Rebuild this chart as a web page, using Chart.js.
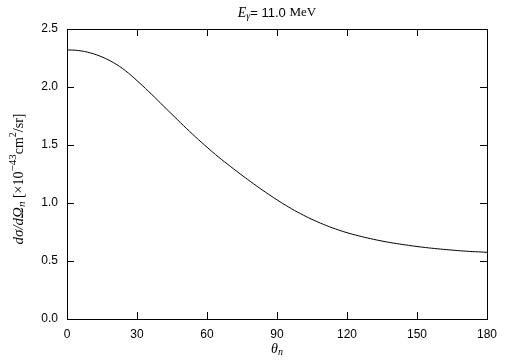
<!DOCTYPE html>
<html>
<head>
<meta charset="utf-8">
<script src="https://cdn.jsdelivr.net/npm/chart.js@4/dist/chart.umd.min.js"></script>
<style>
html,body{margin:0;padding:0;background:#fff;}
#wrap{width:505px;height:361px;position:relative;}
</style>
</head>
<body>
<div id="wrap"><canvas id="c" width="505" height="361"></canvas></div>
<script>
const angles = [0,5,10,15,20,25,30,35,40,45,50,55,60,65,70,75,80,85,90,95,100,105,110,115,120,125,130,135,140,145,150,155,160,165,170,175,180];
const crossSection = [2.320,2.314,2.294,2.259,2.209,2.141,2.055,1.961,1.863,1.764,1.666,1.571,1.481,1.395,1.316,1.239,1.165,1.094,1.027,0.965,0.909,0.859,0.815,0.777,0.744,0.717,0.693,0.672,0.654,0.639,0.625,0.613,0.603,0.594,0.586,0.580,0.575];
const xTicks = [0,30,60,90,120,150,180];
const yTicks = [0,0.5,1.0,1.5,2.0,2.5];

const SANS = '"Liberation Sans", Arial, sans-serif';
const SERIF = '"Liberation Serif", "Times New Roman", serif';

function drawRich(ctx, parts, x, y, rot) {
  ctx.save();
  ctx.translate(x, y);
  if (rot) ctx.rotate(rot);
  ctx.textBaseline = 'middle';
  ctx.fillStyle = '#000';
  let total = 0;
  parts.forEach(p => { ctx.font = p.f; p.w = ctx.measureText(p.t).width; total += p.w; });
  let cx = -total / 2;
  parts.forEach(p => { ctx.font = p.f; ctx.textAlign = 'left'; ctx.fillText(p.t, cx, p.dy || 0); cx += p.w; });
  ctx.restore();
}

const framePlugin = {
  id: 'frame',
  afterDraw(chart) {
    const ctx = chart.ctx;
    const a = chart.chartArea;
    const xs = chart.scales.x, ys = chart.scales.y;
    ctx.save();
    ctx.strokeStyle = '#000';
    ctx.lineWidth = 1;
    ctx.strokeRect(a.left + 0.5, a.top + 0.5, a.right - a.left, a.bottom - a.top);
    ctx.beginPath();
    const L = 7;
    xTicks.forEach(v => {
      const px = Math.round(xs.getPixelForValue(v)) + 0.5;
      ctx.moveTo(px, a.bottom); ctx.lineTo(px, a.bottom - L);
      ctx.moveTo(px, a.top); ctx.lineTo(px, a.top + L);
    });
    yTicks.forEach(v => {
      const py = Math.round(ys.getPixelForValue(v)) + 0.5;
      ctx.moveTo(a.left, py); ctx.lineTo(a.left + L, py);
      ctx.moveTo(a.right, py); ctx.lineTo(a.right - L, py);
    });
    ctx.stroke();
    ctx.restore();

    // Title
    drawRich(ctx, [
      {t: 'E', f: 'italic 14px ' + SERIF},
      {t: 'γ', f: 'italic 10px ' + SERIF, dy: 3},
      {t: '= 11.0 ', f: '13px ' + SANS},
      {t: 'MeV', f: '13px ' + SERIF}
    ], (a.left + a.right) / 2, 13, 0);

    // X title
    drawRich(ctx, [
      {t: 'θ', f: 'italic 14px ' + SERIF},
      {t: 'n', f: 'italic 10px ' + SERIF, dy: 3}
    ], (a.left + a.right) / 2, 349, 0);

    // Y title
    drawRich(ctx, [
      {t: 'dσ/dΩ', f: 'italic 15px ' + SERIF},
      {t: 'n', f: 'italic 11px ' + SERIF, dy: 3},
      {t: ' [×10', f: '14px ' + SERIF},
      {t: '−43', f: '11px ' + SERIF, dy: -6},
      {t: 'cm', f: '14px ' + SERIF},
      {t: '2', f: '10px ' + SERIF, dy: -6},
      {t: '/sr]', f: '14px ' + SERIF}
    ], 19, (a.top + a.bottom) / 2 + 5, -Math.PI / 2);
  }
};

new Chart(document.getElementById('c'), {
  type: 'line',
  data: {
    datasets: [{
      data: angles.map((a, i) => ({x: a, y: crossSection[i]})),
      borderColor: '#000',
      borderWidth: 1,
      pointRadius: 0,
      fill: false,
      tension: 0.4
    }]
  },
  options: {
    responsive: false,
    animation: false,
    devicePixelRatio: 1,
    layout: {padding: {left: 0, top: 29, right: 18, bottom: 0}},
    plugins: {legend: {display: false}, tooltip: {enabled: false}, title: {display: false}},
    scales: {
      x: {
        type: 'linear', min: 0, max: 180,
        afterBuildTicks: s => { s.ticks = xTicks.map(v => ({value: v})); },
        afterFit: s => { s.height = 42; },
        grid: {display: false, drawTicks: false},
        border: {display: false},
        ticks: {color: '#000', font: {family: SANS, size: 12}, padding: 8, maxRotation: 0,
          callback: v => String(v)}
      },
      y: {
        type: 'linear', min: 0, max: 2.5,
        afterBuildTicks: s => { s.ticks = yTicks.map(v => ({value: v})); },
        afterFit: s => { s.width = 67; },
        grid: {display: false, drawTicks: false},
        border: {display: false},
        ticks: {color: '#000', font: {family: SANS, size: 12}, padding: 9,
          callback: v => Number(v).toFixed(1)}
      }
    }
  },
  plugins: [framePlugin]
});
</script>
</body>
</html>
